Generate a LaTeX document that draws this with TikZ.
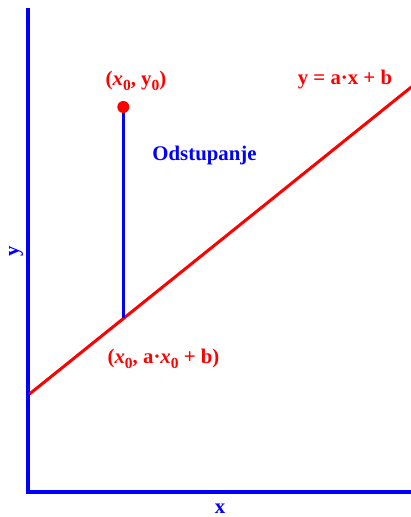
\documentclass[tikz,border=0pt]{standalone}
\usepackage{fontspec}
\setmainfont{Liberation Serif}
\newcommand{\mysub}[1]{\raisebox{-0.22em}{\fontsize{15.5}{18}\selectfont #1}}
\begin{document}
\begin{tikzpicture}[x=1pt,y=-1pt,
  axis/.style={draw=blue, line width=4pt, line join=miter},
  fitline/.style={draw=red, line width=3pt},
  devline/.style={draw=blue, line width=3.3pt},
  lbl/.style={font=\fontsize{20.8}{24}\selectfont\bfseries, inner sep=0pt},
  redlbl/.style={lbl, text=red},
  bluelbl/.style={lbl, text=blue}]
\useasboundingbox (0,0) rectangle (411,517);
\coordinate (top) at (27.5,8);
\coordinate (origin) at (27.5,491.5);
\coordinate (xend) at (411,491.5);
\draw[axis] (top) -- (origin) -- (xend);
\coordinate (lstart) at (29.5,394);
\coordinate (lend) at (412,86.5);
\draw[fitline] (lstart) -- (lend);
\coordinate (foot) at (123.3,318);
\coordinate (pt) at (123.3,107);
\draw[devline] (foot) -- (pt);
\fill[red] (pt) circle (6);
\node[redlbl] (p0) at (136,81) {(\textit{x}\mysub{0}, y\mysub{0})};
\node[bluelbl] (dev) at (204.5,155.5) {Odstupanje};
\node[redlbl] (eq) at (345,80) {y = a·x + b};
\node[redlbl] (p1) at (163.5,359) {(\textit{x}\mysub{0}, a·\textit{x}\mysub{0} + b)};
\node[bluelbl, rotate=90] (ylab) at (16,251) {y};
\node[bluelbl] (xlab) at (220,509) {x};
\end{tikzpicture}
\end{document}
